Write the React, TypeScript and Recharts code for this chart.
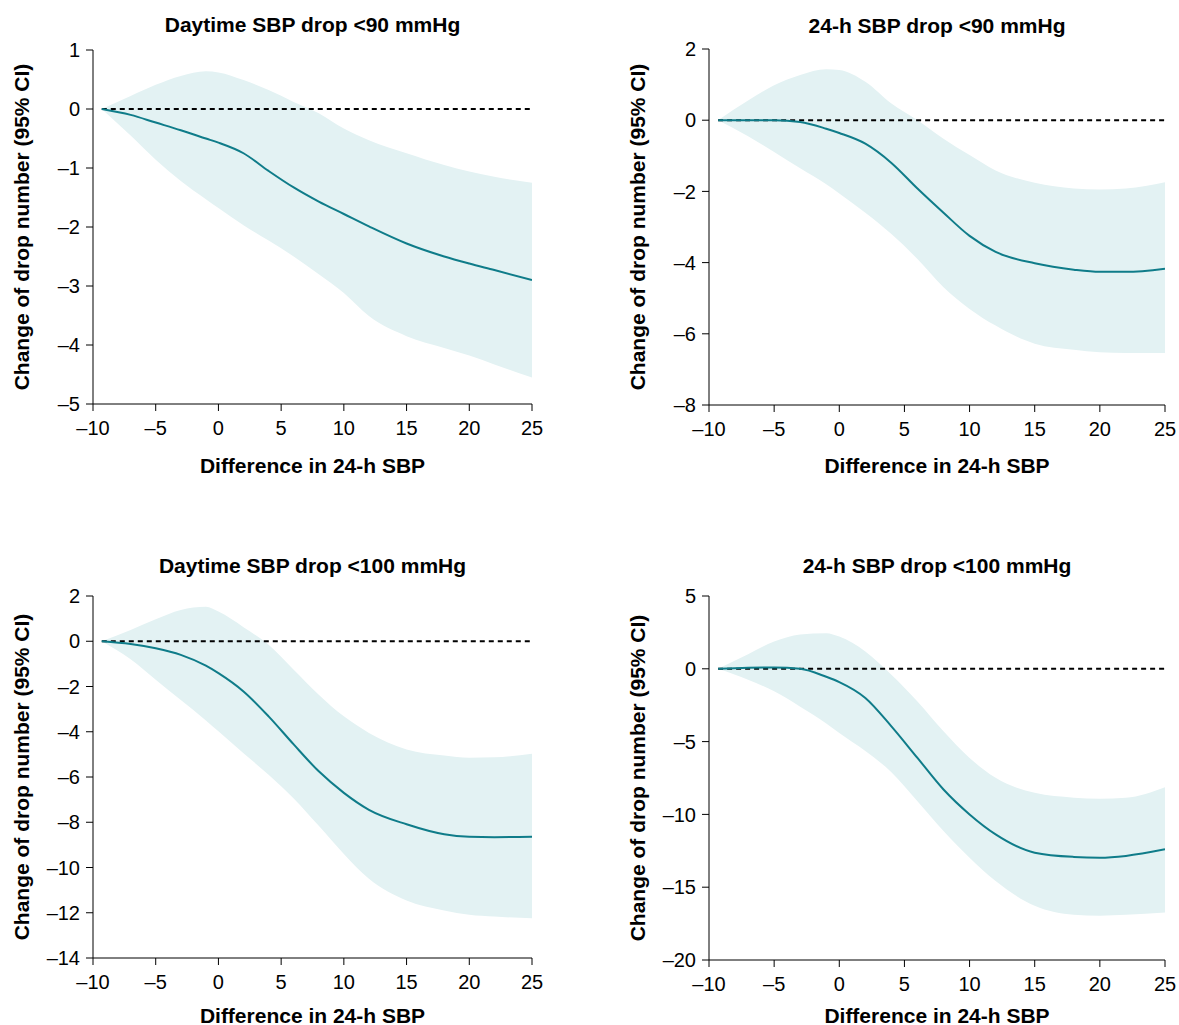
import React from 'react';
import {
  ComposedChart, Area, Line, XAxis, YAxis, ReferenceLine, Label
} from 'recharts';

// x grid (difference in 24-h SBP)
const xs = [-9.3, -7, -5, -3, -1, 0, 2, 4, 6, 8, 10, 12, 15, 18, 20, 22, 25];
const xTicks = [-10, -5, 0, 5, 10, 15, 20, 25];

// Daytime SBP drop <90 mmHg
const day90Est = [0, -0.1, -0.23, -0.36, -0.5, -0.57, -0.75, -1.05, -1.33, -1.57, -1.78, -1.99, -2.28, -2.5, -2.62, -2.73, -2.9];
const day90Hi = [0, 0.22, 0.41, 0.56, 0.64, 0.62, 0.49, 0.32, 0.12, -0.07, -0.33, -0.53, -0.75, -0.95, -1.06, -1.15, -1.25];
const day90Lo = [0, -0.45, -0.86, -1.22, -1.53, -1.68, -1.97, -2.23, -2.5, -2.8, -3.12, -3.51, -3.85, -4.05, -4.18, -4.33, -4.55];

// 24-h SBP drop <90 mmHg
const h24_90Est = [0, 0, 0, -0.05, -0.24, -0.36, -0.66, -1.2, -1.92, -2.6, -3.25, -3.7, -4.02, -4.2, -4.26, -4.26, -4.17];
const h24_90Hi = [0, 0.55, 0.98, 1.27, 1.43, 1.41, 1.08, 0.47, 0, -0.52, -0.98, -1.41, -1.76, -1.92, -1.95, -1.92, -1.74];
const h24_90Lo = [0, -0.45, -0.89, -1.35, -1.8, -2.06, -2.6, -3.2, -3.9, -4.69, -5.3, -5.77, -6.28, -6.45, -6.52, -6.54, -6.54];

// Daytime SBP drop <100 mmHg
const day100Est = [0, -0.12, -0.31, -0.6, -1.08, -1.41, -2.22, -3.32, -4.56, -5.75, -6.7, -7.45, -8.09, -8.53, -8.64, -8.66, -8.64];
const day100Hi = [0, 0.5, 0.97, 1.38, 1.52, 1.31, 0.62, -0.16, -1.26, -2.36, -3.32, -4.05, -4.78, -5.05, -5.15, -5.13, -4.97];
const day100Lo = [0, -0.8, -1.7, -2.6, -3.5, -3.98, -4.95, -5.9, -6.95, -8.16, -9.4, -10.5, -11.46, -11.9, -12.09, -12.17, -12.24];

// 24-h SBP drop <100 mmHg
const h24_100Est = [0, 0.07, 0.09, 0, -0.55, -0.91, -2.0, -3.95, -6.12, -8.29, -10.0, -11.37, -12.63, -12.92, -12.97, -12.85, -12.4];
const h24_100Hi = [0, 1.0, 1.87, 2.35, 2.45, 2.21, 1.19, -0.41, -2.24, -4.29, -6.12, -7.49, -8.52, -8.85, -8.93, -8.86, -8.13];
const h24_100Lo = [0, -0.75, -1.55, -2.6, -3.75, -4.41, -5.65, -7.1, -9.09, -11.14, -12.97, -14.57, -16.28, -16.9, -16.96, -16.9, -16.74];

const FONT = '"Liberation Sans", Arial, Helvetica, sans-serif';
const BAND = '#e3f2f3';
const LINE = '#0f7c89';

const fmt = (v: number) => (v < 0 ? `\u2013${-v}` : `${v}`);

const build = (est: number[], lo: number[], hi: number[]) =>
  xs.map((x, i) => ({ x, est: est[i], band: [lo[i], hi[i]] }));

interface PanelProps {
  title: string;
  data: any[];
  yDomain: [number, number];
  yTicks: number[];
  left: number;
  top: number;
  plotW: number;
  plotH: number;
  titleGap: number;
  xLabelOffset: number;
}

const Panel: React.FC<PanelProps> = ({ title, data, yDomain, yTicks, left, top, plotW, plotH, titleGap, xLabelOffset }) => {
  const yW = 93;
  const mTop = 45;
  const mRight = 14;
  const xH = 70;
  const width = yW + plotW + mRight;
  const height = mTop + plotH + xH + 5;
  const tickStyle = { fill: '#000', fontSize: 20, fontFamily: FONT };
  const labelStyle = { fill: '#000', fontSize: 21, fontWeight: 'bold' as const, fontFamily: FONT };

  return (
    <div style={{ position: 'absolute', left, top, width, height }}>
      <div
        style={{
          position: 'absolute', left: yW, width: plotW, top: mTop - titleGap - 12, height: 24,
          lineHeight: '24px', textAlign: 'center', fontFamily: FONT, fontWeight: 'bold', fontSize: 21, color: '#000',
          whiteSpace: 'nowrap'
        }}
      >
        {title}
      </div>
      <ComposedChart width={width} height={height} data={data} margin={{ top: mTop, right: mRight, bottom: 5, left: 0 }}>
        <XAxis
          type="number" dataKey="x" domain={[-10, 25]} ticks={xTicks} tickFormatter={fmt}
          stroke="#000" tickSize={7} tickMargin={10} tick={tickStyle} height={xH} allowDataOverflow
        >
          <Label value="Difference in 24-h SBP" position="insideBottom" offset={xLabelOffset} style={labelStyle} />
        </XAxis>
        <YAxis
          type="number" domain={yDomain} ticks={yTicks} tickFormatter={fmt} width={yW}
          stroke="#000" tickSize={7} tickMargin={6} tick={tickStyle} allowDataOverflow
        >
          <Label
            value="Change of drop number (95% CI)" angle={-90} position="insideLeft" offset={22}
            style={{ ...labelStyle, textAnchor: 'middle' }}
          />
        </YAxis>
        <Area type="monotone" dataKey="band" fill={BAND} fillOpacity={1} stroke="none" isAnimationActive={false} />
        <ReferenceLine
          segment={[{ x: xs[0], y: 0 }, { x: 25, y: 0 }]}
          stroke="#000" strokeWidth={2} strokeDasharray="5 4"
        />
        <Line type="monotone" dataKey="est" stroke={LINE} strokeWidth={2} dot={false} isAnimationActive={false} />
      </ComposedChart>
    </div>
  );
};

export default function App() {
  return (
    <div style={{ position: 'absolute', left: 0, top: 0, width: 1179, height: 1025, background: '#fff', overflow: 'hidden' }}>
      <Panel
        title="Daytime SBP drop <90 mmHg" data={build(day90Est, day90Lo, day90Hi)}
        yDomain={[-5, 1]} yTicks={[-5, -4, -3, -2, -1, 0, 1]}
        left={0} top={5} plotW={439} plotH={354} titleGap={25} xLabelOffset={1.5}
      />
      <Panel
        title="24-h SBP drop <90 mmHg" data={build(h24_90Est, h24_90Lo, h24_90Hi)}
        yDomain={[-8, 2]} yTicks={[-8, -6, -4, -2, 0, 2]}
        left={616} top={4} plotW={456} plotH={356} titleGap={23} xLabelOffset={2.5}
      />
      <Panel
        title="Daytime SBP drop <100 mmHg" data={build(day100Est, day100Lo, day100Hi)}
        yDomain={[-14, 2]} yTicks={[-14, -12, -10, -8, -6, -4, -2, 0, 2]}
        left={0} top={551} plotW={439} plotH={362} titleGap={30} xLabelOffset={5.5}
      />
      <Panel
        title="24-h SBP drop <100 mmHg" data={build(h24_100Est, h24_100Lo, h24_100Hi)}
        yDomain={[-20, 5]} yTicks={[-20, -15, -10, -5, 0, 5]}
        left={616} top={551} plotW={456} plotH={364} titleGap={30} xLabelOffset={7.5}
      />
    </div>
  );
}
